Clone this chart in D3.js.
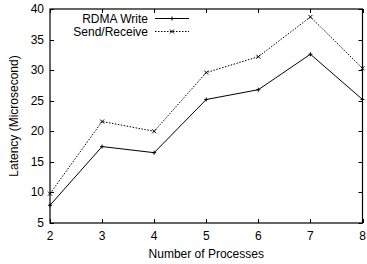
<!DOCTYPE html>
<html>
<head>
<meta charset="utf-8">
<script src="https://cdn.jsdelivr.net/npm/d3@7"></script>
<style>
  body { margin: 0; background: #fff; }
  text { font-family: "Liberation Sans", Arial, sans-serif; font-size: 12px; fill: #000; }
</style>
</head>
<body>
<div class="canvas"></div>
<script>
// Data
const processes = [2, 3, 4, 5, 6, 7, 8];
const rdmaWrite = [7.9, 17.5, 16.5, 25.2, 26.8, 32.6, 25.2];
const sendReceive = [9.8, 21.6, 20.0, 29.6, 32.2, 38.7, 30.3];
const yTicks = [5, 10, 15, 20, 25, 30, 35, 40];
const seriesNames = ["RDMA Write", "Send/Receive"];

const width = 367, height = 264;
const margin = { left: 50, right: 4.5, top: 9, bottom: 41 };

const svg = d3.select(".canvas")
    .append("svg")
    .attr("width", width)
    .attr("height", height);

const x = d3.scaleLinear().domain([2, 8]).range([margin.left, width - margin.right]);
const y = d3.scaleLinear().domain([5, 40]).range([height - margin.bottom, margin.top]);

// Ticks pointing inward, mirrored on top and right
const tickLen = 4;
const ticks = svg.append("g").attr("stroke", "#000").attr("stroke-width", 1);
processes.forEach(p => {
    const px = Math.round(x(p)) + 0.5;
    ticks.append("line").attr("x1", px).attr("x2", px)
        .attr("y1", y(5)).attr("y2", y(5) - tickLen);
    ticks.append("line").attr("x1", px).attr("x2", px)
        .attr("y1", y(40)).attr("y2", y(40) + tickLen);
});
yTicks.forEach(v => {
    const py = Math.round(y(v)) + 0.5;
    ticks.append("line").attr("x1", x(2)).attr("x2", x(2) + tickLen)
        .attr("y1", py).attr("y2", py);
    ticks.append("line").attr("x1", x(8)).attr("x2", x(8) - tickLen)
        .attr("y1", py).attr("y2", py);
});

// Tick labels
svg.append("g").selectAll("text")
    .data(processes)
    .enter().append("text")
    .attr("x", d => x(d))
    .attr("y", y(5) + 17)
    .attr("text-anchor", "middle")
    .text(d => d);

svg.append("g").selectAll("text")
    .data(yTicks)
    .enter().append("text")
    .attr("x", x(2) - 6)
    .attr("y", d => y(d) + 4)
    .attr("text-anchor", "end")
    .text(d => d);

// Frame
svg.append("rect")
    .attr("x", x(2)).attr("y", y(40))
    .attr("width", x(8) - x(2)).attr("height", y(5) - y(40))
    .attr("fill", "none").attr("stroke", "#000").attr("stroke-width", 1.2);

// Axis titles
svg.append("text")
    .attr("x", (x(2) + x(8)) / 2)
    .attr("y", 258)
    .attr("text-anchor", "middle")
    .text("Number of Processes");

svg.append("text")
    .attr("transform", "translate(18," + ((y(5) + y(40)) / 2) + ") rotate(-90)")
    .attr("text-anchor", "middle")
    .text("Latency (Microsecond)");

// Lines
const line = d3.line()
    .x((d, i) => x(processes[i]))
    .y(d => y(d));

svg.append("path")
    .datum(rdmaWrite)
    .attr("d", line)
    .attr("fill", "none").attr("stroke", "#000").attr("stroke-width", 1);

svg.append("path")
    .datum(sendReceive)
    .attr("d", line)
    .attr("fill", "none").attr("stroke", "#000").attr("stroke-width", 1)
    .attr("stroke-dasharray", "1.5,1.5");

// Markers
function plusMark(g, cx, cy) {
    g.append("path")
        .attr("d", `M${cx - 2},${cy}H${cx + 2}M${cx},${cy - 2}V${cy + 2}`)
        .attr("stroke", "#000").attr("stroke-width", 1);
}
function crossMark(g, cx, cy) {
    g.append("path")
        .attr("d", `M${cx - 2},${cy - 2}L${cx + 2},${cy + 2}M${cx - 2},${cy + 2}L${cx + 2},${cy - 2}`)
        .attr("stroke", "#000").attr("stroke-width", 1);
}
const marks = svg.append("g");
rdmaWrite.forEach((v, i) => plusMark(marks, x(processes[i]), y(v)));
sendReceive.forEach((v, i) => crossMark(marks, x(processes[i]), y(v)));

// Legend
const legend = svg.append("g");
const legendRows = [18.5, 31.5];
seriesNames.forEach((name, i) => {
    legend.append("text")
        .attr("x", 148)
        .attr("y", legendRows[i] + 4)
        .attr("text-anchor", "end")
        .text(name);
    const l = legend.append("line")
        .attr("x1", 155).attr("x2", 189)
        .attr("y1", legendRows[i]).attr("y2", legendRows[i])
        .attr("stroke", "#000").attr("stroke-width", 1);
    if (i === 1) l.attr("stroke-dasharray", "1.5,1.5");
    if (i === 0) plusMark(legend, 172, legendRows[i]);
    else crossMark(legend, 172, legendRows[i]);
});
</script>
</body>
</html>
